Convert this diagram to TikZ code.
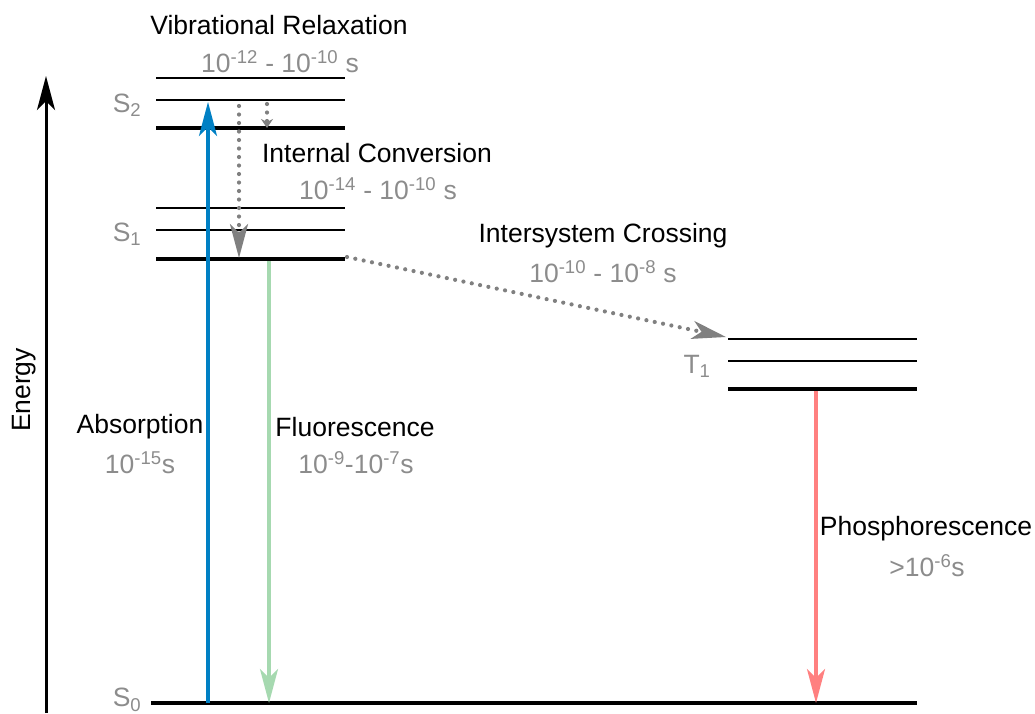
\documentclass[tikz,border=0pt]{standalone}
\usepackage{fontspec}
\setmainfont{Liberation Sans}
\usetikzlibrary{arrows.meta}
\definecolor{absblue}{HTML}{0080C4}
\definecolor{flgreen}{HTML}{A6D9B0}
\definecolor{phred}{HTML}{FF8080}
\definecolor{txtgray}{HTML}{8C8C8C}
\definecolor{dotgray}{HTML}{808080}
\begin{document}
\begin{tikzpicture}[x=1pt, y=-1pt, >={Stealth[length=34pt, width=18pt, inset=9pt]},
    font=\fontsize{26.5}{31}\selectfont,
    thinlevel/.style={line width=1.2pt},
    thicklevel/.style={line width=4pt},
    time/.style={text=txtgray},
    statelabel/.style={text=txtgray},
    dots/.style={dotgray, line width=4.2pt, line cap=round, dash pattern=on 0pt off 8.5pt}]
    \useasboundingbox (0,0) rectangle (1035,713);
    % energy levels
    \foreach \y in {78,100,208,230} \draw[thinlevel] (156,\y) -- (345,\y);
    \foreach \y in {128,259} \draw[thicklevel] (156,\y) -- (345,\y);
    \foreach \y in {339,361} \draw[thinlevel] (728,\y) -- (917,\y);
    \draw[thicklevel] (728,389) -- (917,389);
    \draw[thicklevel] (151,703) -- (917,703);
    \node[statelabel] (S2) at (127,105) {S\textsubscript{2}};
    \node[statelabel] (S1) at (127,234) {S\textsubscript{1}};
    \node[statelabel] (T1) at (697,366) {T\textsubscript{1}};
    \node[statelabel] (S0) at (127,700) {S\textsubscript{0}};
    % arrow ends
    \coordinate (ebot) at (46,713);
    \coordinate (etop) at (46,76);
    \coordinate (absfrom) at (208,703);
    \coordinate (absto) at (208,102);
    \coordinate (icfrom) at (239,106);
    \coordinate (icto) at (239,258);
    \coordinate (vrfrom) at (267,104);
    \coordinate (vrto) at (267,128);
    \coordinate (flfrom) at (269,261);
    \coordinate (flto) at (269,703);
    \coordinate (iscfrom) at (347,257);
    \coordinate (iscto) at (726,337);
    \coordinate (phfrom) at (816,391);
    \coordinate (phto) at (816,703);
    \draw[->, line width=3pt] (ebot) -- (etop);
    \node[rotate=90] (energy) at (24,390) {Energy};
    \draw[->, absblue, line width=3.5pt] (absfrom) -- (absto);
    \draw[->, flgreen, line width=3.5pt] (flfrom) -- (flto);
    \draw[->, phred, line width=3.5pt] (phfrom) -- (phto);
    \draw[dots, ->] (icfrom) -- (icto);
    \draw[dots, -{Stealth[length=9pt, width=12pt, inset=3pt]}] (vrfrom) -- (vrto);
    \draw[dots, ->] (iscfrom) -- (iscto);
    % process labels
    \node (vr) at (279,25) {Vibrational Relaxation};
    \node[time] (vrtime) at (280,62) {10\textsuperscript{-12} - 10\textsuperscript{-10} s};
    \node (ic) at (377,153) {Internal Conversion};
    \node[time] (ictime) at (378,189) {10\textsuperscript{-14} - 10\textsuperscript{-10} s};
    \node (isc) at (603,236) {Intersystem Crossing};
    \node[time] (isctime) at (603,272) {10\textsuperscript{-10} - 10\textsuperscript{-8} s};
    \node (abs) at (140,427) {Absorption};
    \node[time] (abstime) at (140,463) {10\textsuperscript{-15}s};
    \node (fl) at (355,427) {Fluorescence};
    \node[time] (fltime) at (356,463) {10\textsuperscript{-9}-10\textsuperscript{-7}s};
    \node (ph) at (926,529) {Phosphorescence};
    \node[time] (phtime) at (927,566) {>10\textsuperscript{-6}s};
\end{tikzpicture}
\end{document}
